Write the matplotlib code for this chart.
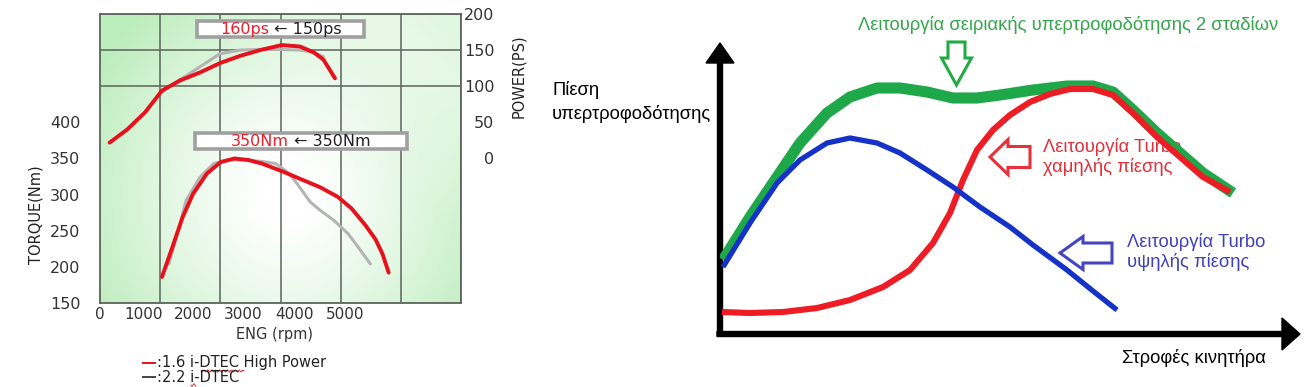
import numpy as np
import matplotlib
matplotlib.use("Agg")
import matplotlib.pyplot as plt
from matplotlib.patches import Rectangle, Polygon
from matplotlib.lines import Line2D

# *** LEFT CHART DATA (engine curves)
RPM_RED_POWER = [160, 450, 750, 1030, 1330, 1660, 1994, 2327, 2659, 3020, 3324, 3550, 3712, 3906]
PS_RED = [22, 40, 64, 94, 108, 119, 132, 142, 150, 157, 155, 147, 137, 111]
RPM_GREY_POWER = [1030, 1330, 1662, 1994, 2327, 2659, 2992, 3324, 3546, 3712]
PS_GREY = [92, 109, 127, 145, 150, 151, 151, 150, 147, 141]

RPM_RED_TORQUE = [1030, 1202, 1374, 1546, 1775, 2004, 2233, 2462, 2691, 3006, 3321, 3664, 3950, 4179, 4408, 4580, 4695, 4798]
NM_RED = [186, 227, 269, 301, 329, 345, 350, 348, 343, 333, 322, 310, 297, 281, 258, 238, 218, 192]
RPM_GREY_TORQUE = [1145, 1300, 1431, 1660, 1889, 2118, 2347, 2691, 2920, 3149, 3321, 3492, 3664, 3893, 4122, 4294, 4494]
NM_GREY = [204, 250, 292, 324, 343, 348, 348, 346, 343, 329, 310, 290, 278, 264, 246, 227, 204]

RPM_LABELS = ["0", "1000", "2000", "3000", "4000", "5000"]
RPM_LABEL_POS = [0, 716, 1546, 2376, 3235, 4082]
TORQUE_TICKS = [150, 200, 250, 300, 350, 400]
POWER_TICKS = [0, 50, 100, 150, 200]

# *** RIGHT CHART DATA (boost pressure sketch, arbitrary units)
X_GREEN = [3, 30, 57, 80, 107, 130, 157, 180, 207, 233, 257, 280, 313, 347, 373, 393, 413, 437, 460, 483, 513]
Y_GREEN = [74, 117, 157, 191, 221, 237, 246, 246, 242, 236, 236, 239, 244, 248, 248, 242, 224, 201, 181, 161, 141]
X_BLUE = [3, 30, 57, 80, 107, 130, 157, 180, 207, 233, 260, 290, 313, 347, 373, 397]
Y_BLUE = [67, 111, 151, 174, 191, 196, 191, 181, 164, 147, 127, 107, 89, 64, 43, 24]
X_RED = [2, 30, 63, 97, 130, 163, 190, 213, 230, 243, 257, 273, 290, 310, 330, 350, 373, 393, 413, 437, 460, 483, 510]
Y_RED = [22, 21, 22, 26, 34, 47, 64, 91, 121, 154, 184, 204, 219, 232, 240, 245, 245, 239, 221, 197, 177, 157, 142]

W, H = 1304, 387
GRID = "#5c645c"


def px_axes(left, top, right, bottom):
  return [left / W, 1 - bottom / H, (right - left) / W, (bottom - top) / H]


def fig_text(fig, x, y, s, **kw):
  fig.text(x / W, 1 - y / H, s, **kw)


def squiggle(fig, x0, x1, y):
  # red spell-check underline seen in the legend
  xs = np.linspace(x0, x1, 40)
  ys = y + 1.2 * np.sin((xs - x0) * 1.6)
  fig.add_artist(Line2D(xs / W, 1 - ys / H, color="#e03030", lw=0.7))


def left_arrow(ax, tip_x, tip_y, head_len, head_half, shaft_half, total_len, color):
  pts = [(tip_x, tip_y), (tip_x + head_len, tip_y + head_half), (tip_x + head_len, tip_y + shaft_half),
         (tip_x + total_len, tip_y + shaft_half), (tip_x + total_len, tip_y - shaft_half),
         (tip_x + head_len, tip_y - shaft_half), (tip_x + head_len, tip_y - head_half)]
  ax.add_patch(Polygon(pts, closed=True, facecolor="white", edgecolor=color, lw=2.2, joinstyle="miter", zorder=6))


def down_arrow(ax, tip_x, tip_y, head_len, head_half, shaft_half, total_len, color):
  pts = [(tip_x, tip_y), (tip_x - head_half, tip_y + head_len), (tip_x - shaft_half, tip_y + head_len),
         (tip_x - shaft_half, tip_y + total_len), (tip_x + shaft_half, tip_y + total_len),
         (tip_x + shaft_half, tip_y + head_len), (tip_x + head_half, tip_y + head_len)]
  ax.add_patch(Polygon(pts, closed=True, facecolor="white", edgecolor=color, lw=2.2, joinstyle="miter",
                       zorder=6, clip_on=False))


def draw_engine_chart(fig):
  ax = fig.add_axes(px_axes(100, 14, 461, 303))
  ax.set_xlim(0, 6000)
  ax.set_ylim(150, 550)

  # green / white background wash
  u, v = np.meshgrid(np.linspace(0, 1, 300), np.linspace(1, 0, 240))
  d = np.sqrt(((u - 0.52) / 0.55) ** 2 + ((v - 0.38) / 0.75) ** 2)
  g = np.clip(d - 0.12, 0, 1) ** 1.2
  g = g * (1 - 0.55 * np.clip((u + v - 1.25) / 0.5, 0, 1))
  green = np.array([0.74, 0.93, 0.74])
  img = (1 - g)[..., None] * np.ones(3) + g[..., None] * green
  ax.imshow(img, extent=(0, 6000, 150, 550), aspect="auto", zorder=0)

  ax.set_xticks(range(0, 6001, 1000), minor=True)
  ax.set_yticks(range(150, 551, 50), minor=True)
  ax.grid(which="minor", color=GRID, lw=1.1)
  ax.set_xticks(RPM_LABEL_POS)
  ax.set_xticklabels(RPM_LABELS)
  ax.set_yticks(TORQUE_TICKS)
  ax.tick_params(which="both", length=0)
  ax.tick_params(axis="x", pad=3, labelsize=11, labelcolor="#333333")
  ax.tick_params(axis="y", pad=14, labelsize=11.5, labelcolor="#333333")
  for sp in ax.spines.values():
    sp.set_color(GRID)
    sp.set_linewidth(1.3)

  ax.plot(RPM_GREY_TORQUE, NM_GREY, color="#b4b4b4", lw=2.2, solid_capstyle="round", zorder=3)
  ax.plot(RPM_RED_TORQUE, NM_RED, color="#e8101c", lw=2.8, solid_capstyle="round", zorder=4)

  ax2 = ax.twinx()
  ax2.set_ylim(-200, 200)
  ax2.set_yticks(POWER_TICKS)
  ax2.tick_params(length=0, pad=2, labelsize=11.5, labelcolor="#333333")
  for lab in ax2.get_yticklabels():
    lab.set_horizontalalignment("right")
    lab.set_x(1.085)
  for sp in ax2.spines.values():
    sp.set_visible(False)
  ax2.plot(RPM_GREY_POWER, PS_GREY, color="#b4b4b4", lw=2.2, solid_capstyle="round", zorder=3)
  ax2.plot(RPM_RED_POWER, PS_RED, color="#e8101c", lw=2.8, solid_capstyle="round", zorder=4)

  # value boxes
  for x0, x1, y0, y1, split, red, black in [
      (0.269, 0.731, 0.920, 0.976, 0.468, "160ps", " \u2190 150ps"),
      (0.263, 0.850, 0.533, 0.588, 0.524, "350Nm", " \u2190 350Nm")]:
    ax2.add_patch(Rectangle((x0, y0), x1 - x0, y1 - y0, transform=ax2.transAxes, facecolor="white",
                            edgecolor="#a0a0a0", lw=2.6, zorder=6))
    yc = (y0 + y1) / 2
    ax2.text(split, yc, red, transform=ax2.transAxes, color="#e8202c", fontsize=11.5,
             ha="right", va="center", zorder=7)
    ax2.text(split, yc, black, transform=ax2.transAxes, color="#222222", fontsize=11.5,
             ha="left", va="center", zorder=7)

  fig_text(fig, 36, 215, "TORQUE(Nm)", rotation=90, ha="center", va="center", fontsize=10.5, color="#222222")
  fig_text(fig, 519, 76, "POWER(PS)", rotation=90, ha="center", va="center", fontsize=10.5, color="#222222")
  fig_text(fig, 274, 334, "ENG (rpm)", ha="center", va="center", fontsize=10.5, color="#333333")

  # legend lines
  for y, col, label in [(363, "#e8101c", ":1.6 i-DTEC High Power"), (377, "#444444", ":2.2 i-DTEC")]:
    fig.add_artist(Line2D([143 / W, 155 / W], [1 - y / H, 1 - y / H], color=col, lw=1.4))
    fig_text(fig, 157, y, label, ha="left", va="center", fontsize=10.5, color="#222222")
  squiggle(fig, 201, 244, 371)
  squiggle(fig, 191, 196, 385)


def draw_turbo_chart(fig):
  ax = fig.add_axes(px_axes(720, 43, 1300, 334))
  ax.set_xlim(0, 580)
  ax.set_ylim(0, 291)
  ax.axis("off")

  # axes arrows
  ax.arrow(0, -2, 0, 293, width=5, head_width=28, head_length=20, length_includes_head=True,
           color="black", clip_on=False, zorder=2)
  ax.arrow(-3, 0, 583, 0, width=5, head_width=32, head_length=18, length_includes_head=True,
           color="black", clip_on=False, zorder=2)

  ax.plot(X_GREEN, Y_GREEN, color="#1ea84a", lw=8, solid_capstyle="butt", solid_joinstyle="round", zorder=3)
  ax.plot(X_RED, Y_RED, color="#ee1c24", lw=4.4, solid_capstyle="butt", solid_joinstyle="round", zorder=4)
  ax.plot(X_BLUE, Y_BLUE, color="#1432c8", lw=3.8, solid_capstyle="butt", solid_joinstyle="round", zorder=5)

  down_arrow(ax, 236.5, 249, 27, 15, 8.5, 43, "#22aa44")
  left_arrow(ax, 270, 177, 18, 17.5, 10.5, 40, "#e8303a")
  left_arrow(ax, 340, 81, 23, 16.5, 10, 52, "#4545c0")

  fnt = "Liberation Sans"
  ax.text(138, 309, "Λειτουργία σειριακής υπερτροφοδότησης 2 σταδίων", color="#35a64a", fontsize=13.2,
          family=fnt, ha="left", va="center", clip_on=False)
  ax.text(-168, 232, "Πίεση\nυπερτροφοδότησης", color="black", fontsize=13.2, family=fnt,
          ha="left", va="center", linespacing=1.45, clip_on=False)
  # the curves run over the end of this label in the original
  ax.text(323, 177, "Λειτουργία Turbo\nχαμηλής πίεσης", color="#e0303a", fontsize=13.2, family=fnt,
          ha="left", va="center", clip_on=False, zorder=1)
  ax.text(407, 82, "Λειτουργία Turbo\nυψηλής πίεσης", color="#4040b8", fontsize=13.2, family=fnt,
          ha="left", va="center", clip_on=False)
  ax.text(402, -24, "Στροφές κινητήρα", color="black", fontsize=13.2, family=fnt,
          ha="left", va="center", clip_on=False)


def main():
  fig = plt.figure(figsize=(W / 100, H / 100), dpi=100)
  fig.patch.set_facecolor("white")
  draw_engine_chart(fig)
  draw_turbo_chart(fig)
  fig.savefig("out.png", dpi=100)


if __name__ == "__main__":
  main()
